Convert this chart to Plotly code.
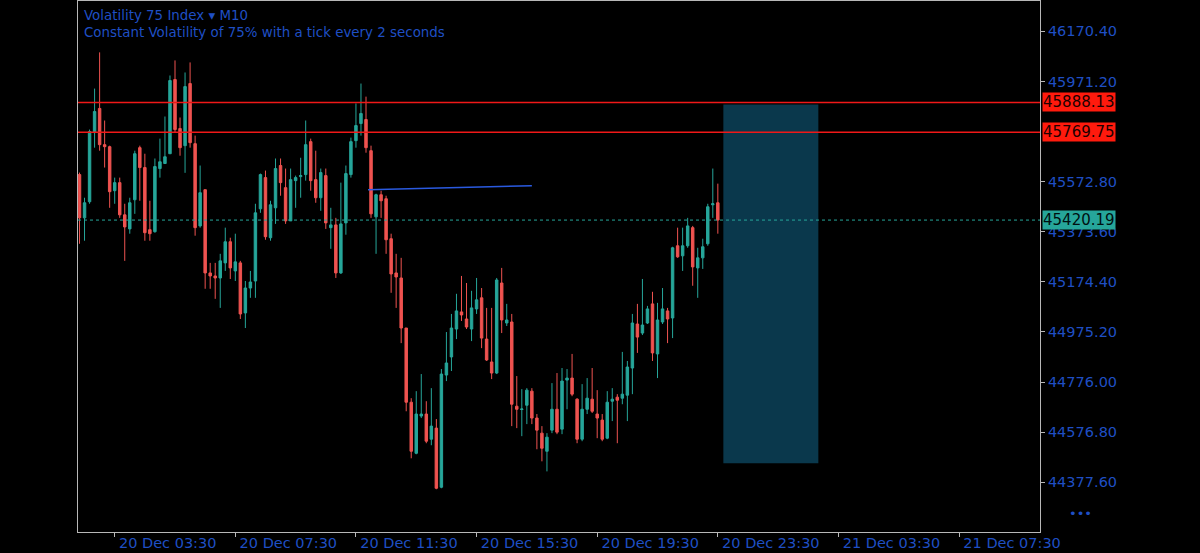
import pandas as pd
import plotly.graph_objects as go

# ---------------- data (M10 candles) ----------------
start_time = "2023-12-20 02:20"
opens = [45601, 45429, 45493, 45768, 45864, 45720, 45712, 45537, 45569, 45441,
         45385, 45501, 45708, 45629, 45382, 45374, 45625, 45645, 45684, 45979,
         45784, 45716, 45963, 45724, 45397, 45541, 45210, 45198, 45190, 45250,
         45334, 45218, 45250, 45051, 45150, 45178, 45465, 45589, 45350, 45469,
         45637, 45549, 45417, 45577, 45593, 45601, 45732, 45581, 45509, 45597,
         45390, 45401, 45210, 45409, 45601, 45736, 45804, 45820, 45696, 45433,
         45521, 45505, 45346, 45210, 45190, 44991, 44696, 44493, 44641, 44649,
         44549, 44593, 44358, 44804, 44876, 44987, 45055, 45027, 44987, 45067,
         45111, 44947, 44856, 44812, 45170, 45011, 45015, 44680, 44667, 44684,
         44740, 44633, 44573, 44501, 44585, 44668, 44589, 44784, 44792, 44708,
         44549, 44668, 44708, 44649, 44625, 44553, 44700, 44716, 44712, 44724,
         44832, 45007, 44971, 45011, 45087, 44888, 45015, 45059, 45031, 45318,
         45278, 45318, 45390, 45230, 45270, 45326, 45481, 45489]
highs = [45609, 45509, 45780, 45943, 46087, 45816, 45716, 45589, 45589, 45485,
         45509, 45696, 45716, 45684, 45497, 45665, 45744, 45832, 45995, 46055,
         45828, 46007, 46047, 45756, 45637, 45541, 45250, 45250, 45286, 45390,
         45350, 45366, 45258, 45178, 45218, 45485, 45605, 45617, 45497, 45665,
         45665, 45625, 45625, 45597, 45668, 45816, 45744, 45696, 45625, 45625,
         45469, 45429, 45569, 45637, 45748, 45884, 45963, 45911, 45716, 45525,
         45537, 45517, 45366, 45286, 45270, 44991, 44712, 44740, 44808, 44700,
         44752, 44629, 44828, 44975, 45047, 45127, 45198, 45170, 45139, 45190,
         45150, 45071, 45071, 45190, 45230, 45087, 45047, 44800, 44748, 44752,
         44752, 44649, 44601, 44573, 44772, 44812, 44832, 44828, 44888, 44712,
         44768, 44792, 44832, 44744, 44649, 44740, 44752, 44728, 44896, 44860,
         45047, 45087, 45186, 45079, 45135, 45091, 45150, 45071, 45314, 45390,
         45390, 45429, 45397, 45310, 45346, 45485, 45625, 45565]
lows = [45326, 45338, 45485, 45708, 45696, 45629, 45469, 45485, 45429, 45258,
        45366, 45445, 45497, 45338, 45338, 45370, 45589, 45645, 45684, 45768,
        45676, 45608, 45708, 45358, 45390, 45147, 45147, 45107, 45071, 45218,
        45186, 45178, 45027, 44991, 45111, 45111, 45449, 45342, 45338, 45405,
        45517, 45405, 45417, 45469, 45509, 45577, 45537, 45489, 45457, 45385,
        45306, 45190, 45206, 45362, 45589, 45708, 45756, 45688, 45429, 45286,
        45429, 45286, 45131, 45071, 44931, 44660, 44473, 44489, 44633, 44533,
        44525, 44350, 44354, 44780, 44820, 44947, 45019, 44987, 44939, 45047,
        44911, 44860, 44788, 44808, 44971, 44999, 44601, 44593, 44561, 44609,
        44609, 44509, 44461, 44421, 44573, 44569, 44569, 44668, 44720, 44533,
        44541, 44649, 44653, 44553, 44541, 44549, 44621, 44533, 44688, 44621,
        44728, 44892, 44963, 45007, 44860, 44792, 45007, 44931, 44951, 45270,
        45218, 45310, 45159, 45111, 45226, 45318, 45429, 45366]
closes = [45429, 45489, 45772, 45852, 45720, 45712, 45533, 45569, 45441, 45393,
          45489, 45684, 45629, 45370, 45366, 45633, 45652, 45672, 45975, 45780,
          45708, 45951, 45728, 45390, 45529, 45210, 45198, 45190, 45258, 45334,
          45230, 45254, 45047, 45150, 45174, 45449, 45601, 45354, 45481, 45625,
          45569, 45417, 45581, 45589, 45597, 45720, 45577, 45509, 45609, 45409,
          45401, 45210, 45405, 45605, 45732, 45796, 45844, 45708, 45445, 45521,
          45497, 45342, 45206, 45194, 44991, 44696, 44501, 44649, 44649, 44541,
          44601, 44354, 44808, 44852, 44991, 45059, 45043, 44995, 45071, 45103,
          44951, 44864, 44812, 45182, 45023, 45023, 44688, 44668, 44669, 44744,
          44633, 44585, 44513, 44557, 44668, 44577, 44780, 44792, 44728, 44549,
          44668, 44712, 44660, 44633, 44549, 44696, 44708, 44704, 44728, 44836,
          45011, 44955, 45003, 45067, 44892, 45023, 45067, 45027, 45310, 45274,
          45318, 45397, 45234, 45270, 45314, 45473, 45485, 45420.19]

# horizontal price levels and their labels
level_prices = [45888.13, 45769.75]
current_price = 45420.19
# y-axis tick values (45772.00 sits hidden under the level label)
y_ticks = [46170.40, 45971.20, 45572.80, 45373.60, 45174.40,
           44975.20, 44776.00, 44576.80, 44377.60]
# trend line (time, price) and zone rectangle
trend_times = ["2023-12-20 11:54", "2023-12-20 17:20"]
trend_prices = [45541, 45557]
zone_times = ["2023-12-20 23:41", "2023-12-21 02:50"]
zone_prices = [44453, 45880]

title_line1 = "Volatility 75 Index \u25BE M10"
title_line2 = "Constant Volatility of 75% with a tick every 2 seconds"

# ---------------- figure ----------------
times = pd.date_range(start_time, periods=len(opens), freq="10min")

BLUE = "#1f4fc4"
GREEN = "#26a69a"
RED = "#ef5350"
AXIS = "#b8b8b8"
FONT = "DejaVu Sans"

fig = go.Figure(go.Candlestick(
    x=times, open=opens, high=highs, low=lows, close=closes,
    increasing=dict(line=dict(color=GREEN, width=1), fillcolor=GREEN),
    decreasing=dict(line=dict(color=RED, width=1), fillcolor=RED),
    whiskerwidth=0, hoverinfo="skip",
))

shapes = [
    dict(type="rect", xref="x", yref="y", x0=zone_times[0], x1=zone_times[1],
         y0=zone_prices[0], y1=zone_prices[1], fillcolor="#0a384c",
         line=dict(width=0), layer="below"),
    dict(type="line", xref="x", yref="y", x0=trend_times[0], x1=trend_times[1],
         y0=trend_prices[0], y1=trend_prices[1],
         line=dict(color="#2a5ae0", width=1.5), layer="above"),
    dict(type="line", xref="paper", yref="y", x0=0, x1=1,
         y0=current_price, y1=current_price,
         line=dict(color=GREEN, width=1, dash="dot"), layer="above"),
]
for p in level_prices:
    shapes.append(dict(type="line", xref="paper", yref="y", x0=0, x1=1, y0=p, y1=p,
                       line=dict(color="#f01818", width=1.5), layer="above"))

annotations = [
    dict(xref="paper", yref="paper", x=0, y=1, xanchor="left", yanchor="top",
         xshift=4, yshift=-5, showarrow=False, align="left",
         text=title_line1 + "<br>" + title_line2,
         font=dict(family=FONT, size=13.4, color=BLUE)),
    dict(xref="paper", yref="paper", x=1.0416, y=0.034, xanchor="center",
         yanchor="middle", showarrow=False, text="\u2022\u2022\u2022",
         font=dict(family=FONT, size=13, color=BLUE)),
]
for p in level_prices:
    annotations.append(dict(
        xref="paper", yref="y", x=1, y=p, xanchor="left", yanchor="middle",
        xshift=2, showarrow=False, text=f"{p:.2f}", bgcolor="#ff1a0d",
        borderpad=0, font=dict(family=FONT, size=15, color="#200000")))
annotations.append(dict(
    xref="paper", yref="y", x=1, y=current_price, xanchor="left",
    yanchor="middle", xshift=2, showarrow=False, text=f"{current_price:.2f}",
    bgcolor=GREEN, borderpad=0,
    font=dict(family=FONT, size=15, color="#001010")))

fig.update_layout(
    width=1200, height=553,
    margin=dict(l=78, r=160, t=1, b=21),
    paper_bgcolor="black", plot_bgcolor="black",
    showlegend=False,
    shapes=shapes, annotations=annotations,
    xaxis=dict(
        type="date",
        automargin=False,
        range=["2023-12-20 02:17", "2023-12-21 10:11"],
        rangeslider=dict(visible=False),
        showgrid=False, zeroline=False,
        showline=True, linecolor=AXIS, linewidth=1, mirror=True,
        ticks="outside", ticklen=4, tickcolor=AXIS,
        tick0="2023-12-20 03:30", dtick=4 * 3600 * 1000,
        tickformat="%d %b %H:%M",
        ticklabelshift=53, ticklabelstandoff=-6,
        tickfont=dict(family=FONT, size=14.5, color=BLUE),
    ),
    yaxis=dict(
        side="right",
        automargin=False,
        range=[44180.0, 46291.2],
        showgrid=False, zeroline=False,
        showline=True, linecolor=AXIS, linewidth=1, mirror=True,
        ticks="outside", ticklen=4, tickcolor=AXIS,
        tickvals=y_ticks, ticktext=[f"{v:.2f}" for v in y_ticks],
        tickfont=dict(family=FONT, size=14.5, color=BLUE),
    ),
)

fig.write_html(
    "out.html",
    config={"displayModeBar": False},
    post_script="document.body.style.margin='0';document.body.style.background='black';"
                "document.body.style.overflow='hidden';",
)
